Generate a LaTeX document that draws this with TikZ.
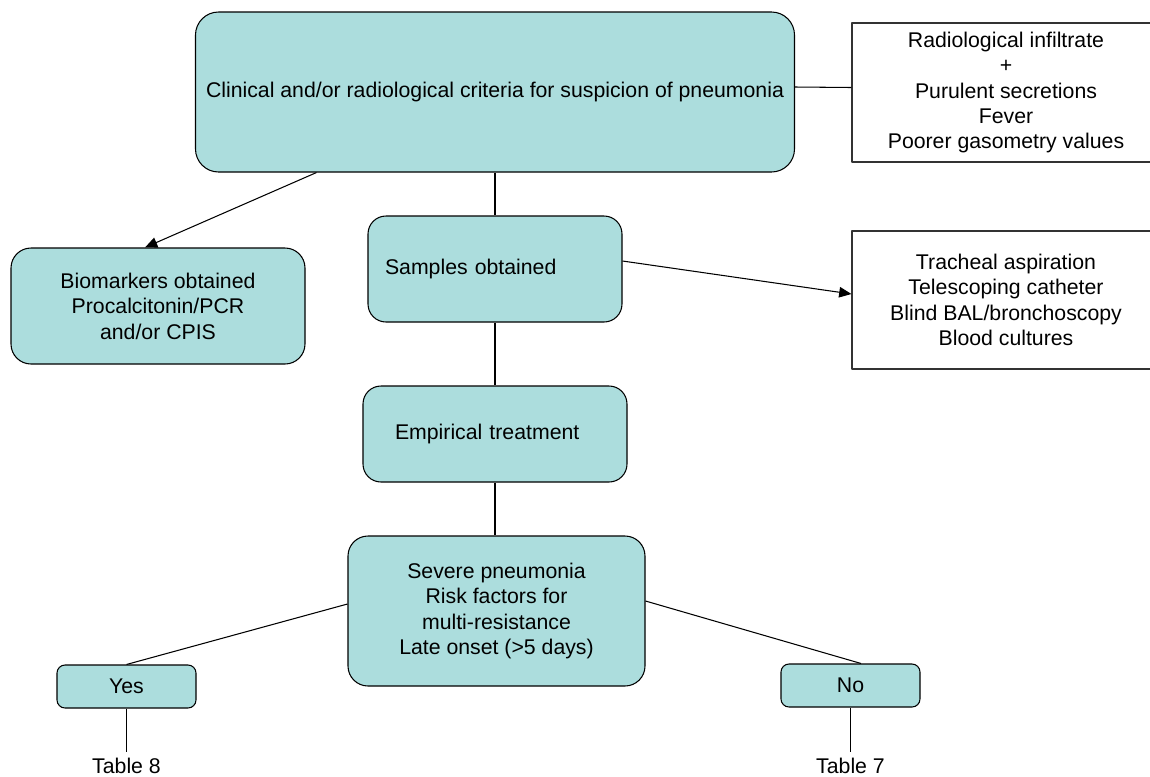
\documentclass[tikz,border=0pt]{standalone}
\usepackage{fontspec}
\setmainfont{Liberation Sans}
\usetikzlibrary{arrows.meta}
\definecolor{boxfill}{RGB}{172,221,221}
\begin{document}
\begin{tikzpicture}[>={Triangle[length=7pt,width=6pt]}, line join=round, line width=0.6pt,
	font=\fontsize{12.1}{14.5}\selectfont,
	greenbox/.style={draw, fill=boxfill, rounded corners=0.36cm, align=center, inner sep=0pt},
	plainbox/.style={draw=black!80, fill=white, align=center, inner sep=0pt}]
	\useasboundingbox (0,0) rectangle (23,-15.52);
	\node[greenbox, rounded corners=0.46cm, minimum width=11.98cm, minimum height=3.2cm] (crit) at (9.9,-1.84) {Clinical and/or radiological criteria for suspicion of pneumonia};
	\node[plainbox, minimum width=6.16cm, minimum height=2.78cm] (signs) at (20.12,-1.85) {Radiological infiltrate\\+\\Purulent secretions\\Fever\\Poorer gasometry values};
	\node[greenbox, rounded corners=0.4cm, minimum width=5.88cm, minimum height=2.32cm] (biomark) at (3.16,-6.12) {Biomarkers obtained\\Procalcitonin/PCR\\and/or CPIS};
	\node[greenbox, align=left, text width=4.4cm, inner xsep=0.34cm, minimum height=2.12cm] (samples) at (9.9,-5.38) {Samples obtained};
	\node[plainbox, minimum width=6.16cm, minimum height=2.76cm] (signs2) at (20.12,-6.0) {Tracheal aspiration\\Telescoping catheter\\Blind BAL/bronchoscopy\\Blood cultures};
	\node[greenbox, align=left, text width=4.0cm, inner xsep=0.64cm, minimum height=1.92cm] (empir) at (9.9,-8.68) {Empirical treatment};
	\node[greenbox, rounded corners=0.4cm, minimum width=5.94cm, minimum height=3.0cm] (severe) at (9.93,-12.22) {Severe pneumonia\\Risk factors for\\multi-resistance\\Late onset (>5 days)};
	\node[greenbox, rounded corners=0.16cm, minimum width=2.78cm, minimum height=0.86cm] (yes) at (2.53,-13.73) {Yes};
	\node[greenbox, rounded corners=0.16cm, minimum width=2.78cm, minimum height=0.86cm] (no) at (17.01,-13.71) {No};
	\node[anchor=north] (tab8) at (2.53,-15.04) {Table 8};
	\node[anchor=north] (tab7) at (17.01,-15.04) {Table 7};
	\draw[->] ([xshift=-3.57cm]crit.south) -- ([xshift=-0.26cm]biomark.north);
	\draw ([yshift=0.1cm]crit.east) -- ([yshift=0.1cm]signs.west);
	\draw (crit.south) -- (samples.north);
	\draw[->] ([yshift=0.16cm]samples.east) -- ([yshift=0.12cm]signs2.west);
	\draw (samples.south) -- (empir.north);
	\draw (empir.south) -- (empir.south |- severe.north);
	\draw ([yshift=0.14cm]severe.west) -- (yes.north);
	\draw ([yshift=0.2cm]severe.east) -- ([xshift=0.21cm]no.north);
	\draw (yes.south) -- (tab8.north);
	\draw (no.south) -- (tab7.north);
\end{tikzpicture}
\end{document}
